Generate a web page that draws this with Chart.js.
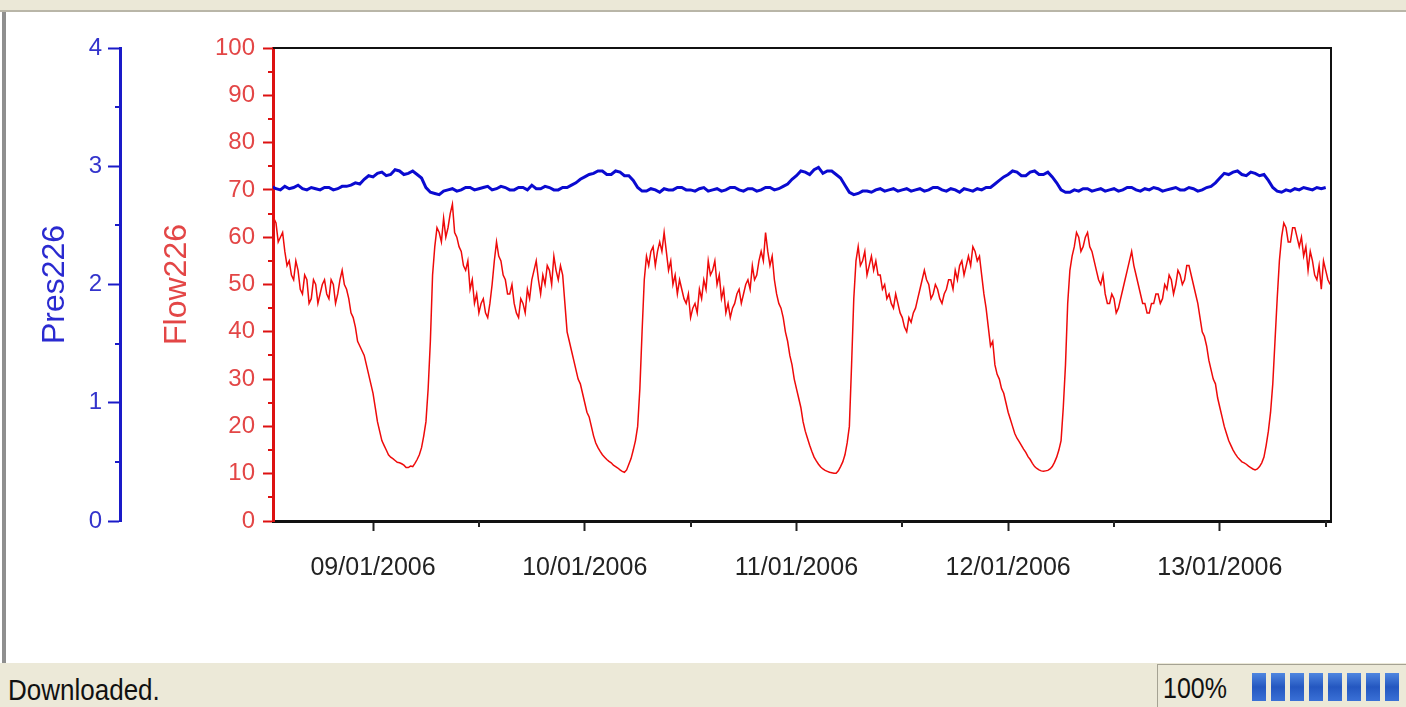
<!DOCTYPE html>
<html>
<head>
<meta charset="utf-8">
<script src="https://cdn.jsdelivr.net/npm/chart.js@4.4.1/dist/chart.umd.min.js"></script>
<style>
  html, body { margin:0; padding:0; background:#fff; width:1406px; height:707px; overflow:hidden;
               font-family:"Liberation Sans", Arial, sans-serif; }
  #wrap { position:absolute; left:0; top:0; width:1406px; height:663px; }
  #topbar { position:absolute; left:0; top:0; width:1406px; height:10px; background:#ebe8d7;
            border-bottom:2px solid #b9b6a8; }
  #leftedge { position:absolute; left:2px; top:12px; width:4px; height:651px; background:#8f8f8f; }
  #status { position:absolute; left:0; top:663px; width:1406px; height:44px; background:#ece9d8; }
  #msg { position:absolute; left:8px; top:9px; font-size:26px; color:#111;
         transform:scaleY(1.15); transform-origin:left top; }
  #panel { position:absolute; left:1157px; top:1px; width:249px; height:43px;
           border-left:1px solid #a5a293; border-top:1px solid #a5a293; }
  #pct { position:absolute; left:5px; top:7px; font-size:25px; color:#111;
         transform:scaleY(1.15); transform-origin:left top; }
  #blocks { position:absolute; left:94px; top:8px; height:28px; display:flex; gap:5px; }
  #blocks span { display:block; width:14px; height:28px;
                 background:linear-gradient(#4f86e0, #2457c0 50%, #3a70d6); }
</style>
</head>
<body>
<div id="wrap"><canvas id="mychart"></canvas></div>
<div id="topbar"></div>
<div id="leftedge"></div>
<div id="status">
  <span id="msg">Downloaded.</span>
  <div id="panel">
    <span id="pct">100%</span>
    <div id="blocks"><span></span><span></span><span></span><span></span><span></span><span></span><span></span><span></span></div>
  </div>
</div>
<script>
// hours counted from 09/01/2006 00:00
var xTickHours = [0, 24, 48, 72, 96]
var xTickLabels = ["09/01/2006", "10/01/2006", "11/01/2006", "12/01/2006", "13/01/2006"]
var xMinorHours = [12, 36, 60, 84, 108]

// Flow226, one reading every 15 minutes from 08/01 12:30 (one row = 6 hours)
var flowStart = -11.5, flowStep = 0.25
var Flow226 = [
  68, 64, 63, 59, 60, 61, 57, 54, 55, 52, 51, 55, 53, 49, 48, 52, 51, 46, 47, 51, 50, 46, 48, 50,
  51, 48, 47, 51, 50, 46, 48, 51, 53, 50, 49, 47, 44, 43, 41, 38, 37, 36, 35, 33, 31, 29, 27, 24,
  21, 19, 17, 16, 15, 14, 13.5, 13.2, 12.8, 12.4, 12.3, 12.1, 11.8, 11.3, 11.3, 11.6, 11.5, 12.2, 13, 14, 15.5, 18, 21, 28,
  38, 52, 58, 62, 61, 59, 64, 60, 62, 65, 67, 61, 60, 58, 57, 54, 53, 55, 49, 51, 46, 48, 44, 46,
  47, 44, 43, 46, 50, 55, 59, 56, 55, 52, 51, 48, 48, 50, 46, 44, 43, 47, 46, 44, 49, 47, 51, 53,
  55, 51, 48, 52, 50, 54, 53, 50, 56, 53, 51, 54, 52, 46, 40, 38, 36, 34, 32, 30, 29, 27, 25, 23,
  22, 20, 18, 16.5, 15.5, 14.7, 14, 13.5, 13, 12.6, 12.3, 11.8, 11.5, 11.2, 10.8, 10.5, 10.3, 10.8, 12, 13.2, 15, 17, 20, 28,
  40, 51, 56, 54, 57, 58, 54, 57, 59, 57, 61, 57, 53, 55, 50, 52, 48, 51, 49, 47, 46, 48, 43, 45,
  46, 44, 49, 47, 51, 49, 55, 52, 53, 55, 50, 52, 47, 49, 44, 46, 43, 45, 46, 48, 49, 46, 48, 50,
  51, 49, 54, 51, 52, 55, 57, 55, 61, 57, 54, 56, 51, 48, 46, 45, 43, 40, 38, 35, 33, 30, 28, 26,
  24, 21, 19, 17.5, 16, 14.7, 13.5, 12.7, 12, 11.4, 11, 10.7, 10.5, 10.3, 10.2, 10.1, 10.1, 10.6, 11.5, 12.5, 14, 16.5, 20, 33,
  47, 55, 58, 54, 55, 57, 52, 54, 56, 53, 55, 52, 52, 49, 50, 47, 48, 46, 45, 48, 46, 44, 43, 41,
  40, 43, 42, 44, 45, 47, 49, 51, 53, 51, 50, 47, 48, 50, 49, 47, 46, 48, 49, 51, 51, 49, 53, 51,
  54, 55, 52, 54, 56, 54, 58, 57, 55, 56, 52, 48, 45, 41, 37, 38, 33, 31, 30, 28, 27, 25, 23, 21.5,
  20, 18.5, 17.5, 16.8, 16, 15.2, 14.5, 13.6, 13, 12.2, 11.5, 11.1, 10.8, 10.6, 10.5, 10.6, 10.7, 11, 11.5, 12.4, 13.5, 15, 17, 24,
  33, 46, 53, 56, 58, 61, 60, 57, 58, 60, 61, 58, 57, 55, 53, 51, 50, 52, 48, 46, 46, 48, 47, 44,
  45, 47, 49, 51, 53, 55, 57, 54, 52, 50, 48, 46, 46, 44, 44, 46, 46, 48, 48, 46, 47, 50, 49, 52,
  51, 48, 50, 53, 52, 50, 51, 54, 54, 52, 50, 48, 46, 43, 40, 39, 37, 34, 32, 30, 29, 26, 24, 22,
  20, 18.5, 17, 16, 15, 14.2, 13.5, 13, 12.5, 12.3, 12, 11.6, 11.3, 11, 10.8, 11, 11.5, 12.3, 13.5, 16, 19, 23, 29, 38,
  47, 55, 60, 63, 62, 59, 59, 62, 62, 60, 58, 60, 56, 58, 53, 57, 55, 52, 51, 54, 49, 55, 53, 51,
  50
]

// Pres226, one reading every 30 minutes from 08/01 12:00 (one row = 12 hours)
var presStart = -12, presStep = 0.5
var Pres226 = [
  2.82, 2.83, 2.81, 2.80, 2.83, 2.81, 2.82, 2.84, 2.81, 2.80, 2.82, 2.81, 2.80, 2.82, 2.82, 2.80, 2.81, 2.83, 2.83, 2.84, 2.86, 2.85, 2.89, 2.92,
  2.91, 2.94, 2.95, 2.92, 2.93, 2.97, 2.96, 2.93, 2.94, 2.96, 2.93, 2.90, 2.82, 2.78, 2.77, 2.76, 2.79, 2.80, 2.81, 2.79, 2.80, 2.82, 2.82, 2.80,
  2.81, 2.82, 2.83, 2.80, 2.81, 2.83, 2.82, 2.80, 2.80, 2.82, 2.82, 2.80, 2.84, 2.81, 2.81, 2.83, 2.82, 2.80, 2.80, 2.82, 2.82, 2.84, 2.86, 2.89,
  2.91, 2.93, 2.94, 2.96, 2.96, 2.93, 2.93, 2.96, 2.95, 2.92, 2.92, 2.88, 2.82, 2.79, 2.79, 2.81, 2.80, 2.78, 2.81, 2.80, 2.80, 2.82, 2.82, 2.80,
  2.80, 2.79, 2.81, 2.82, 2.79, 2.80, 2.81, 2.79, 2.80, 2.82, 2.82, 2.80, 2.79, 2.81, 2.81, 2.79, 2.80, 2.82, 2.82, 2.80, 2.81, 2.83, 2.85, 2.89,
  2.92, 2.96, 2.95, 2.93, 2.97, 2.99, 2.94, 2.96, 2.96, 2.93, 2.90, 2.84, 2.78, 2.76, 2.77, 2.79, 2.79, 2.78, 2.80, 2.81, 2.79, 2.80, 2.81, 2.79,
  2.80, 2.81, 2.79, 2.80, 2.81, 2.79, 2.80, 2.82, 2.82, 2.80, 2.79, 2.81, 2.80, 2.78, 2.81, 2.80, 2.79, 2.81, 2.80, 2.82, 2.82, 2.85, 2.88, 2.91,
  2.93, 2.96, 2.95, 2.92, 2.92, 2.95, 2.96, 2.93, 2.93, 2.95, 2.91, 2.86, 2.80, 2.78, 2.78, 2.80, 2.79, 2.81, 2.81, 2.79, 2.80, 2.81, 2.79, 2.80,
  2.81, 2.79, 2.80, 2.82, 2.82, 2.80, 2.79, 2.81, 2.80, 2.82, 2.81, 2.79, 2.80, 2.81, 2.82, 2.80, 2.80, 2.82, 2.81, 2.79, 2.80, 2.82, 2.83, 2.86,
  2.90, 2.94, 2.93, 2.95, 2.96, 2.93, 2.92, 2.95, 2.94, 2.92, 2.93, 2.88, 2.82, 2.79, 2.78, 2.80, 2.79, 2.81, 2.80, 2.82, 2.81, 2.80, 2.82, 2.81,
  2.82
]

var flowPoints = Flow226.map(function(v, i){ return {x: flowStart + i*flowStep, y: v} })
var presPoints = Pres226.map(function(v, i){ return {x: presStart + i*presStep, y: v} })

Chart.defaults.font.family = '"Liberation Sans", Arial, sans-serif'

// short ticks between the labelled ones
var minorTicks = {
  id: "minorTicks",
  afterDraw: function(chart){
    var ctx = chart.ctx
    function side(scale, values, len, color){
      ctx.save()
      ctx.strokeStyle = color
      ctx.lineWidth = 2
      ctx.beginPath()
      values.forEach(function(v){
        var p = Math.round(scale.getPixelForValue(v))
        if (scale.isHorizontal()) {
          ctx.moveTo(p, scale.top); ctx.lineTo(p, scale.top + len)
        } else {
          ctx.moveTo(scale.right - len, p); ctx.lineTo(scale.right, p)
        }
      })
      ctx.stroke()
      ctx.restore()
    }
    side(chart.scales.x, xMinorHours, 6, "#222")
    side(chart.scales.y, [5,15,25,35,45,55,65,75,85,95], 5, "#dd1111")
    side(chart.scales.y1, [0.5,1.5,2.5,3.5], 5, "#1a1ac8")
  }
}

var frame = {
  id: "frame",
  afterDatasetsDraw: function(chart){
    var a = chart.chartArea, ctx = chart.ctx
    ctx.save()
    ctx.strokeStyle = "#111"
    ctx.lineWidth = 2
    ctx.beginPath()
    ctx.moveTo(a.left, a.top); ctx.lineTo(a.right, a.top); ctx.lineTo(a.right, a.bottom)
    ctx.stroke()
    ctx.restore()
  }
}

var myChart = document.getElementById("mychart").getContext("2d")

var chart = new Chart(myChart, {
  type: "line",
  data: {
    datasets: [
      {
        label: "Pres226",
        data: presPoints,
        yAxisID: "y1",
        borderColor: "#0a0ad0",
        borderWidth: 3,
        pointRadius: 0,
        tension: 0
      },
      {
        label: "Flow226",
        data: flowPoints,
        yAxisID: "y",
        borderColor: "#ee0a0a",
        borderWidth: 1.5,
        pointRadius: 0,
        tension: 0
      }
    ]
  },
  options: {
    responsive: true,
    maintainAspectRatio: false,
    animation: false,
    devicePixelRatio: 1,
    layout: { padding: { left: 10, right: 75, top: 48, bottom: 0 } },
    plugins: { legend: { display: false }, tooltip: { enabled: false } },
    scales: {
      x: {
        type: "linear",
        min: -11.34,
        max: 108.6,
        afterBuildTicks: function(scale){
          scale.ticks = xTickHours.map(function(h){ return {value: h} })
        },
        afterFit: function(scale){ scale.height = 142 },
        border: { color: "#111", width: 3 },
        grid: { drawOnChartArea: false, tickLength: 10, tickColor: "#222", tickWidth: 2 },
        ticks: {
          padding: 22,
          color: "#222",
          font: { size: 25 },
          maxRotation: 0,
          autoSkip: false,
          callback: function(v){
            var i = xTickHours.indexOf(v)
            return i < 0 ? "" : xTickLabels[i]
          }
        }
      },
      y: {
        position: "left",
        weight: 0,
        min: 0,
        max: 100,
        afterFit: function(scale){ scale.width = 153 },
        border: { color: "#dd1111", width: 3 },
        grid: { drawOnChartArea: false, tickLength: 10, tickColor: "#dd1111", tickWidth: 2 },
        ticks: { stepSize: 10, padding: 8, color: "#e34646", font: { size: 24 } },
        title: {
          display: true,
          text: "Flow226",
          color: "#e34646",
          font: { size: 32 },
          padding: { top: 38, bottom: 0 }
        }
      },
      y1: {
        position: "left",
        weight: 1,
        min: 0,
        max: 4,
        afterFit: function(scale){ scale.width = 110 },
        border: { color: "#1a1ac8", width: 3 },
        grid: { drawOnChartArea: false, tickLength: 12, tickColor: "#1a1ac8", tickWidth: 2 },
        ticks: { stepSize: 1, padding: 6, color: "#3434cc", font: { size: 24 } },
        title: {
          display: true,
          text: "Pres226",
          color: "#2a2ad0",
          font: { size: 32 },
          padding: { top: 26, bottom: 0 }
        }
      }
    }
  },
  plugins: [minorTicks, frame]
})
</script>
</body>
</html>
